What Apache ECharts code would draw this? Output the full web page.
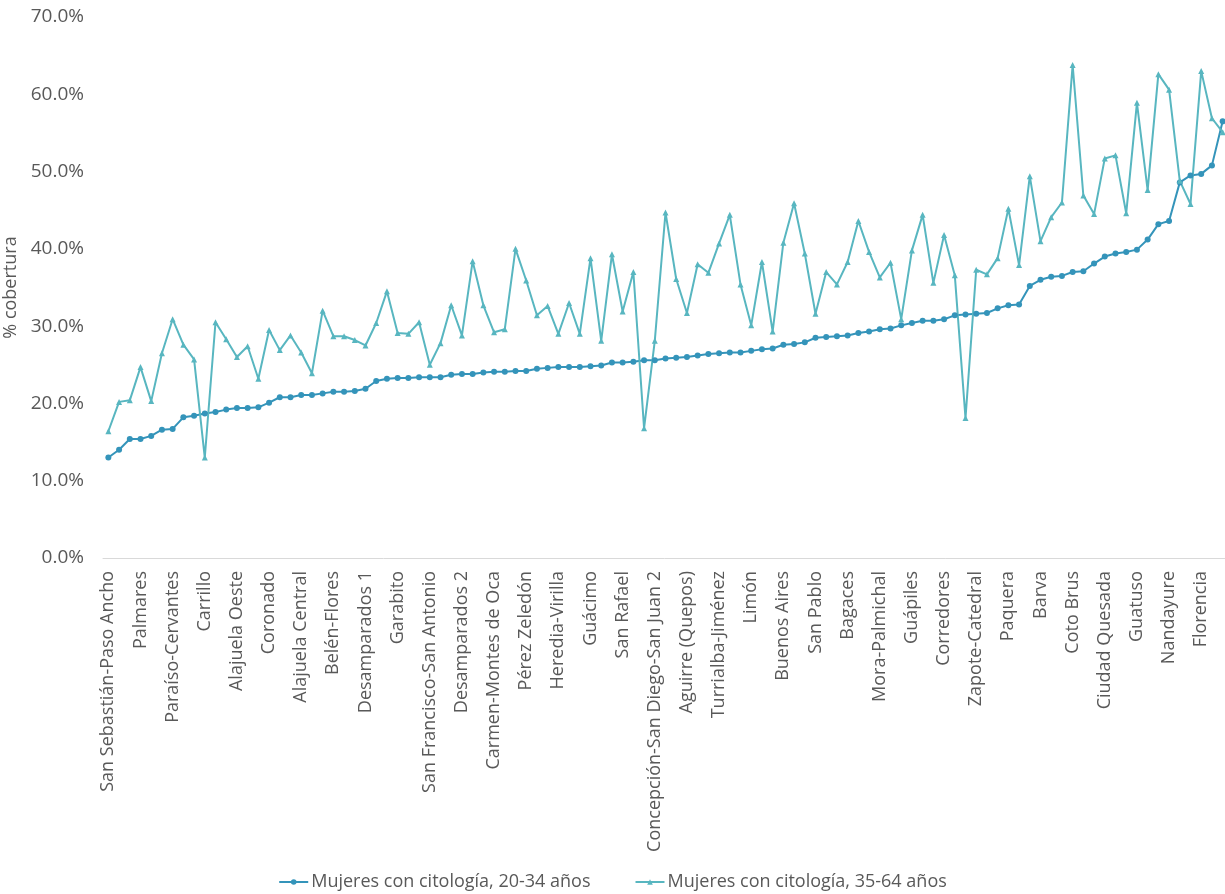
<!DOCTYPE html>
<html lang="es">
<head>
<meta charset="utf-8">
<title>Cobertura de citología por área de salud</title>
<script src="https://cdn.jsdelivr.net/npm/echarts@6/dist/echarts.min.js"></script>
<style>
  html, body { margin: 0; padding: 0; background: #ffffff; }
  #chart { width: 1225px; height: 894px; }
</style>
</head>
<body>
<div id="chart"></div>
<script>
// Áreas de salud rotuladas (una de cada tres en el eje horizontal)
const areaLabels = [
  'San Sebastián-Paso Ancho', 'Palmares', 'Paraíso-Cervantes', 'Carrillo',
  'Alajuela Oeste', 'Coronado', 'Alajuela Central', 'Belén-Flores',
  'Desamparados 1', 'Garabito', 'San Francisco-San Antonio', 'Desamparados 2',
  'Carmen-Montes de Oca', 'Pérez Zeledón', 'Heredia-Virilla', 'Guácimo',
  'San Rafael', 'Concepción-San Diego-San Juan 2', 'Aguirre (Quepos)',
  'Turrialba-Jiménez', 'Limón', 'Buenos Aires', 'San Pablo', 'Bagaces',
  'Mora-Palmichal', 'Guápiles', 'Corredores', 'Zapote-Catedral', 'Paquera',
  'Barva', 'Coto Brus', 'Ciudad Quesada', 'Guatuso', 'Nandayure', 'Florencia'
];
const labelStep = 3;

// % de cobertura, mujeres con citología de 20 a 34 años
const cob20a34 = [
  13.0, 14.0, 15.4, 15.4, 15.8, 16.6, 16.7, 18.2, 18.4, 18.7,
  18.9, 19.2, 19.4, 19.4, 19.5, 20.1, 20.8, 20.8, 21.1, 21.1,
  21.3, 21.5, 21.5, 21.6, 21.9, 22.9, 23.2, 23.3, 23.3, 23.4,
  23.4, 23.4, 23.7, 23.8, 23.8, 24.0, 24.1, 24.1, 24.2, 24.2,
  24.5, 24.6, 24.7, 24.7, 24.7, 24.8, 24.9, 25.3, 25.3, 25.4,
  25.6, 25.6, 25.8, 25.9, 26.0, 26.2, 26.4, 26.5, 26.6, 26.6,
  26.8, 27.0, 27.1, 27.6, 27.7, 27.9, 28.5, 28.6, 28.7, 28.8,
  29.1, 29.3, 29.6, 29.7, 30.1, 30.4, 30.7, 30.7, 30.9, 31.4,
  31.5, 31.6, 31.7, 32.3, 32.7, 32.8, 35.2, 36.0, 36.4, 36.5,
  37.0, 37.1, 38.1, 39.0, 39.4, 39.6, 39.9, 41.2, 43.2, 43.6,
  48.6, 49.5, 49.7, 50.8, 56.5
];

// % de cobertura, mujeres con citología de 35 a 64 años
const cob35a64 = [
  16.4, 20.2, 20.4, 24.7, 20.3, 26.5, 30.9, 27.6, 25.7, 13.0,
  30.5, 28.3, 26.0, 27.4, 23.2, 29.5, 26.9, 28.8, 26.6, 23.9,
  32.0, 28.7, 28.7, 28.2, 27.5, 30.4, 34.5, 29.1, 29.0, 30.5,
  25.0, 27.8, 32.7, 28.8, 38.4, 32.7, 29.2, 29.6, 40.0, 35.9,
  31.4, 32.6, 29.0, 33.0, 29.0, 38.8, 28.1, 39.3, 31.9, 37.0,
  16.8, 28.1, 44.7, 36.1, 31.7, 38.0, 36.9, 40.7, 44.4, 35.4,
  30.1, 38.3, 29.3, 40.8, 45.9, 39.4, 31.6, 37.0, 35.4, 38.3,
  43.6, 39.6, 36.3, 38.2, 30.9, 39.8, 44.4, 35.6, 41.8, 36.6,
  18.1, 37.3, 36.7, 38.8, 45.2, 37.9, 49.4, 41.0, 44.1, 46.0,
  63.8, 46.9, 44.5, 51.7, 52.1, 44.6, 58.9, 47.6, 62.6, 60.6,
  48.8, 45.8, 63.0, 56.9, 55.1
];

const seriesNames = ['Mujeres con citología, 20-34 años', 'Mujeres con citología, 35-64 años'];
const yTicks = { min: 0, max: 70, step: 10 };
const yAxisName = '% cobertura';

// Una categoría por área; sólo cada tercera lleva nombre visible
const categories = cob20a34.map((_, i) =>
  i % labelStep === 0 ? areaLabels[i / labelStep] : '');

const FONT = '"Open Sans", "Noto Sans", sans-serif';
const TEXT = '#595959';

const chart = echarts.init(document.getElementById('chart'), null, { renderer: 'canvas' });
chart.setOption({
  animation: false,
  backgroundColor: '#ffffff',
  textStyle: { fontFamily: FONT, color: TEXT },
  grid: { left: 103, right: -3, top: 17, bottom: 336, outerBoundsMode: 'none' },
  legend: {
    data: seriesNames,
    top: 868,
    left: 'center',
    itemWidth: 29,
    itemHeight: 7,
    itemGap: 44,
    textStyle: { fontFamily: FONT, fontSize: 18, color: TEXT, padding: [0, 0, 0, -2] }
  },
  xAxis: {
    type: 'category',
    data: categories,
    boundaryGap: true,
    axisLine: { show: true, lineStyle: { color: '#D9D9D9', width: 1 } },
    axisTick: { show: false },
    splitLine: { show: false },
    axisLabel: {
      interval: 0,
      rotate: 90,
      margin: 13,
      fontFamily: FONT,
      fontSize: 18,
      color: TEXT
    }
  },
  yAxis: {
    type: 'value',
    min: yTicks.min,
    max: yTicks.max,
    interval: yTicks.step,
    name: yAxisName,
    nameLocation: 'middle',
    nameGap: 81,
    nameTextStyle: { fontFamily: FONT, fontSize: 18, color: TEXT },
    axisLine: { show: false },
    axisTick: { show: false },
    splitLine: { show: false },
    axisLabel: {
      margin: 19,
      fontFamily: FONT,
      fontSize: 19,
      color: TEXT,
      formatter: v => v.toFixed(1) + '%'
    }
  },
  series: [
    {
      name: seriesNames[0],
      type: 'line',
      data: cob20a34,
      symbol: 'circle',
      symbolSize: 6,
      showAllSymbol: true,
      itemStyle: { color: '#3494BA' },
      lineStyle: { color: '#3494BA', width: 2 }
    },
    {
      name: seriesNames[1],
      type: 'line',
      data: cob35a64,
      symbol: 'triangle',
      symbolSize: 6,
      showAllSymbol: true,
      itemStyle: { color: '#58B6C0' },
      lineStyle: { color: '#58B6C0', width: 2 }
    }
  ]
});
</script>
</body>
</html>
